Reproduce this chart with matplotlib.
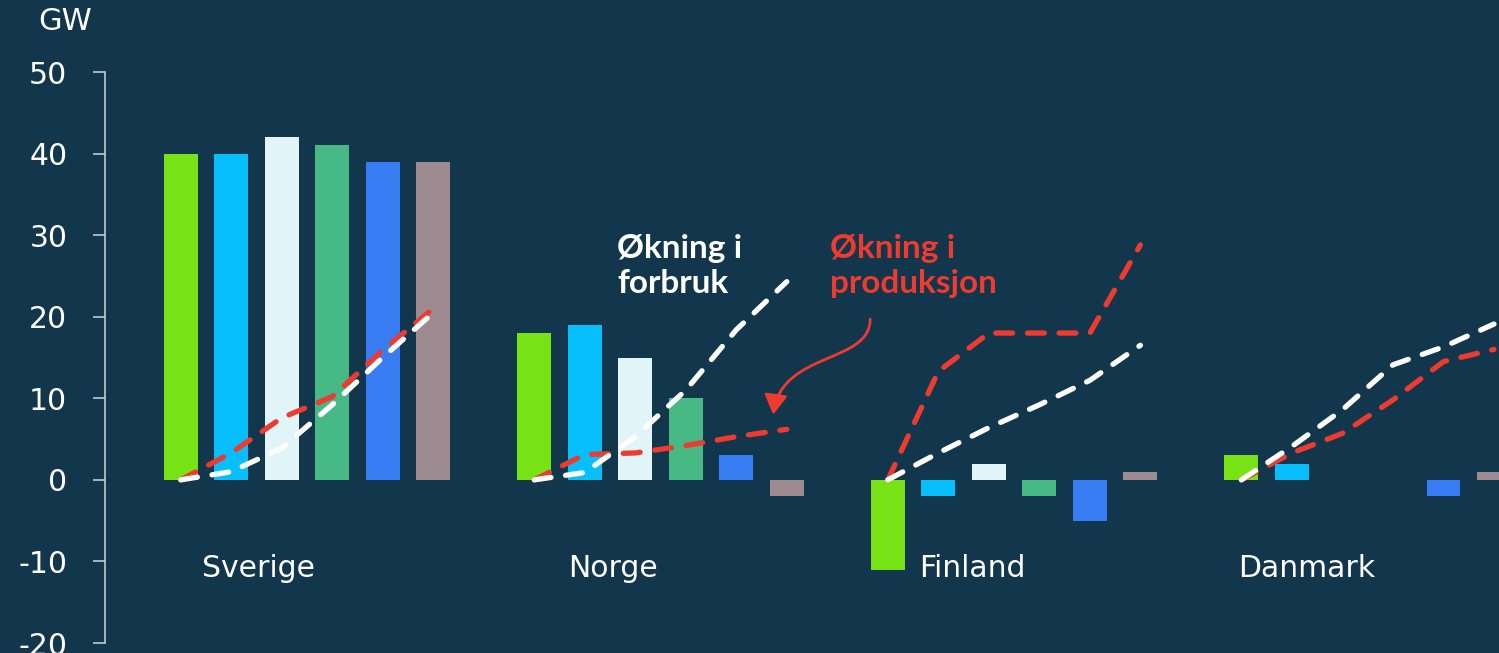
import matplotlib
matplotlib.use('Agg')
import matplotlib.pyplot as plt
from matplotlib.path import Path
from matplotlib.patches import FancyArrowPatch

plt.rcParams['axes.unicode_minus'] = False

# Installed capacity change per country (GW), six scenarios each
countries = ['Sverige', 'Norge', 'Finland', 'Danmark']
bar_colors = ['#77e214', '#08bffe', '#e1f5f8', '#47b984', '#387cf4', '#9e8a91']

sverige = [40, 40, 42, 41, 39, 39]
norge = [18, 19, 15, 10, 3, -2]
finland = [-11, -2, 2, -2, -5, 1]
danmark = [3, 2, 0, 0, -2, 1]

# Increase in consumption (white dashed) and production (red dashed)
sverige_forbruk = [0, 1, 3.9, 9.2, 15, 20.5]
norge_forbruk = [0, 0.9, 5.3, 11, 18.4, 24.3]
finland_forbruk = [0, 3.3, 6.4, 9.2, 12.2, 16.5]
danmark_forbruk = [0, 4.1, 8.6, 14.1, 16.3, 19.1]

sverige_prod = [0, 3.3, 7.6, 10.2, 15.9, 21]
norge_prod = [0, 3.1, 3.3, 4.2, 5.3, 6.2]
finland_prod = [0, 13.3, 18, 18, 18, 28.8]
danmark_prod = [0, 3.3, 5.7, 9.8, 14.5, 16]

bars = [sverige, norge, finland, danmark]
forbruk = [sverige_forbruk, norge_forbruk, finland_forbruk, danmark_forbruk]
produksjon = [sverige_prod, norge_prod, finland_prod, danmark_prod]

bg = '#12364c'
red = '#ee3a2f'
axis_col = '#cfd6da'

fig = plt.figure(figsize=(14.99, 6.53), dpi=100)
fig.patch.set_facecolor(bg)
ax = fig.add_axes([0.070, 0.0153, 0.930, 0.8744])
ax.set_facecolor(bg)

group_step = 7
label_offset = [1.55, 1.55, 1.67, 1.29]
for g, vals in enumerate(bars):
    xs = [g * group_step + i for i in range(len(vals))]
    ax.bar(xs, vals, width=0.67, color=bar_colors, edgecolor='none', zorder=2)
    ax.plot(xs, produksjon[g], color=red, lw=3.8, dashes=(3.2, 2.8),
            dash_capstyle='round', solid_joinstyle='round', zorder=3)
    ax.plot(xs, forbruk[g], color='white', lw=3.8, dashes=(3.2, 2.8),
            dash_capstyle='round', solid_joinstyle='round', zorder=4)
    ax.text(g * group_step + label_offset[g], -10.9, countries[g], color='white',
            fontsize=21.5, ha='center', va='center')

ax.set_xlim(-1.5, 26.1)
ax.set_ylim(-20, 50)
ax.set_yticks(range(-20, 51, 10))
ax.set_xticks([])
for s in ['top', 'right', 'bottom']:
    ax.spines[s].set_visible(False)
ax.spines['left'].set_color(axis_col)
ax.spines['left'].set_linewidth(1.1)
ax.tick_params(axis='y', colors=axis_col, labelcolor='white', labelsize=21.5,
               length=8.6, width=1.1, pad=18.5)

fig.text(65 / 1499, 1 - 22 / 653, 'GW', color='white', fontsize=22,
         ha='center', va='center')

# Annotations
ax.text(8.64, 30.2, 'Økning i\nforbruk', color='white', fontsize=24,
        fontweight='bold', family='Lato', ha='left', va='top', linespacing=1.28)
ax.text(12.86, 30.2, 'Økning i\nproduksjon', color=red, fontsize=24,
        fontweight='bold', family='Lato', ha='left', va='top', linespacing=1.28)

arrow_path = Path([(13.65, 19.7), (13.65, 14.2), (11.9, 15.8), (11.73, 8.0)],
                  [Path.MOVETO, Path.CURVE4, Path.CURVE4, Path.CURVE4])
arrow = FancyArrowPatch(path=arrow_path, arrowstyle='-|>,head_length=12,head_width=7',
                        color=red, lw=2, zorder=5)
ax.add_patch(arrow)

fig.savefig('out.png', dpi=100, facecolor=bg)
